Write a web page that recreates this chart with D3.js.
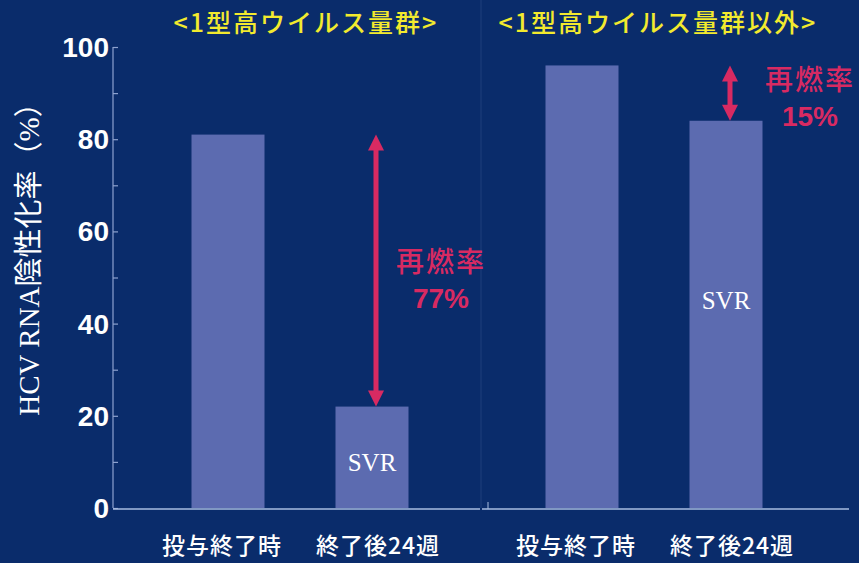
<!DOCTYPE html>
<html>
<head>
<meta charset="utf-8">
<script src="https://cdn.jsdelivr.net/npm/d3@7"></script>
<style>
  html, body { margin: 0; padding: 0; background: #0a2c6b; }
  svg { display: block; }
</style>
</head>
<body>
<svg id="chart"></svg>
<script>
// chart size
const width = 859, height = 563;

// data
const categories = ['投与終了時', '終了後24週'];
const panelTitles = ['<1型高ウイルス量群>', '<1型高ウイルス量群以外>'];
const highLoadValues = [81, 22];
const otherValues = [96, 84];
const relapseRates = ['77%', '15%'];
const svrLabelValues = [10, 45];
const yTicks = [0, 20, 40, 60, 80, 100];
const yMinorTicks = [10, 30, 50, 70, 90];

const svg = d3.select('#chart').attr('width', width).attr('height', height);

svg.append('rect').attr('width', width).attr('height', height).attr('fill', '#0a2c6b');

const y = d3.scaleLinear().domain([0, 100]).range([508, 47]);

const panels = [
  { title: panelTitles[0], values: highLoadValues, rate: relapseRates[0], svr: svrLabelValues[0],
    x: d3.scalePoint().domain(categories).range([228, 372]), titleX: 306, rateX: 441, rateY: 262, left: 113, right: 480 },
  { title: panelTitles[1], values: otherValues, rate: relapseRates[1], svr: svrLabelValues[1],
    x: d3.scalePoint().domain(categories).range([582, 726]), titleX: 658, rateX: 810, rateY: 80, left: 482, right: 849 }
];
const barW = 73;
const labelShift = [-6, 6];

// y axis on the left panel, ticks point inward
const yAxis = d3.axisLeft(y).tickValues(yTicks.concat(yMinorTicks)).tickSize(-5).tickFormat('');
const ag = svg.append('g').attr('transform', 'translate(113,0)').call(yAxis);
ag.selectAll('path, line').attr('stroke', '#8da2cf').attr('stroke-width', 1.2);
ag.select('.domain').attr('d', 'M0,' + y(100) + 'V' + y(0));

svg.selectAll('.ytl')
  .data(yTicks)
  .enter()
  .append('text')
  .attr('x', 109)
  .attr('y', d => y(d))
  .attr('dy', '0.36em')
  .attr('text-anchor', 'end')
  .attr('fill', '#ffffff')
  .attr('font-family', 'Liberation Sans, Arial, sans-serif')
  .attr('font-weight', 'bold')
  .attr('font-size', 28)
  .text(d => d);

// y axis title
svg.append('text')
  .attr('transform', 'translate(39,' + 252 + ') rotate(-90)')
  .attr('text-anchor', 'middle')
  .attr('fill', '#ffffff')
  .attr('font-family', 'Liberation Serif, Noto Sans CJK JP, serif')
  .attr('font-size', 29)
  .text('HCV RNA陰性化率（%）');

// faint separator of the right panel
svg.append('line')
  .attr('x1', 481).attr('x2', 481).attr('y1', 0).attr('y2', 508)
  .attr('stroke', '#5f78b0').attr('stroke-opacity', 0.25);

panels.forEach(p => {
  // baseline
  svg.append('line')
    .attr('x1', p.left).attr('x2', p.right)
    .attr('y1', y(0) + 1).attr('y2', y(0) + 1)
    .attr('stroke', '#a9bde0').attr('stroke-width', 1.5);

  // bars
  svg.append('g').selectAll('rect')
    .data(p.values)
    .enter()
    .append('rect')
    .attr('x', (d, i) => p.x(categories[i]) - barW / 2)
    .attr('y', d => y(d))
    .attr('width', barW)
    .attr('height', d => y(0) - y(d))
    .attr('fill', '#5c6bb0');

  // category labels
  svg.append('g').selectAll('text')
    .data(categories)
    .enter()
    .append('text')
    .attr('x', (d, i) => p.x(d) + labelShift[i])
    .attr('y', 554)
    .attr('text-anchor', 'middle')
    .attr('fill', '#ffffff')
    .attr('font-family', 'Noto Sans CJK JP, sans-serif')
    .attr('font-weight', 500)
    .attr('font-size', 23)
    .attr('letter-spacing', 1)
    .text(d => d);

  // panel title
  svg.append('text')
    .attr('x', p.titleX)
    .attr('y', 32)
    .attr('text-anchor', 'middle')
    .attr('fill', '#f2ea2e')
    .attr('font-family', 'Noto Sans CJK JP, sans-serif')
    .attr('font-weight', 500)
    .attr('font-size', 25)
    .attr('letter-spacing', 2)
    .text(p.title);

  // SVR label inside the second bar
  svg.append('text')
    .attr('x', p.x(categories[1]))
    .attr('y', y(p.svr))
    .attr('dy', '0.35em')
    .attr('text-anchor', 'middle')
    .attr('fill', '#ffffff')
    .attr('font-family', 'Liberation Serif, Times New Roman, serif')
    .attr('font-size', 25)
    .text('SVR');

  // relapse arrow between the two bar heights
  const ax = p.x(categories[1]) + 4;
  const yTop = y(p.values[0]), yBot = y(p.values[1]);
  const hw = 8, hh = 16;
  svg.append('line')
    .attr('x1', ax).attr('x2', ax)
    .attr('y1', yTop + hh - 2).attr('y2', yBot - hh + 2)
    .attr('stroke', '#d82a62').attr('stroke-width', 5);
  svg.append('path')
    .attr('d', `M${ax},${yTop}L${ax + hw},${yTop + hh}L${ax - hw},${yTop + hh}Z`)
    .attr('fill', '#d82a62');
  svg.append('path')
    .attr('d', `M${ax},${yBot}L${ax + hw},${yBot - hh}L${ax - hw},${yBot - hh}Z`)
    .attr('fill', '#d82a62');

  // relapse text
  svg.append('text')
    .attr('x', p.rateX)
    .attr('y', p.rateY)
    .attr('dy', '0.36em')
    .attr('text-anchor', 'middle')
    .attr('fill', '#d82a62')
    .attr('font-family', 'Noto Sans CJK JP, sans-serif')
    .attr('font-weight', 500)
    .attr('font-size', 28)
    .attr('letter-spacing', 2)
    .text('再燃率');
  svg.append('text')
    .attr('x', p.rateX)
    .attr('y', p.rateY + 36)
    .attr('dy', '0.36em')
    .attr('text-anchor', 'middle')
    .attr('fill', '#d82a62')
    .attr('font-family', 'Liberation Sans, Arial, sans-serif')
    .attr('font-weight', 'bold')
    .attr('font-size', 28)
    .text(p.rate);
});

// small tick at the start of the right baseline
svg.append('line')
  .attr('x1', 488).attr('x2', 488).attr('y1', y(0) - 6).attr('y2', y(0) + 1)
  .attr('stroke', '#a9bde0').attr('stroke-width', 1);
</script>
</body>
</html>
